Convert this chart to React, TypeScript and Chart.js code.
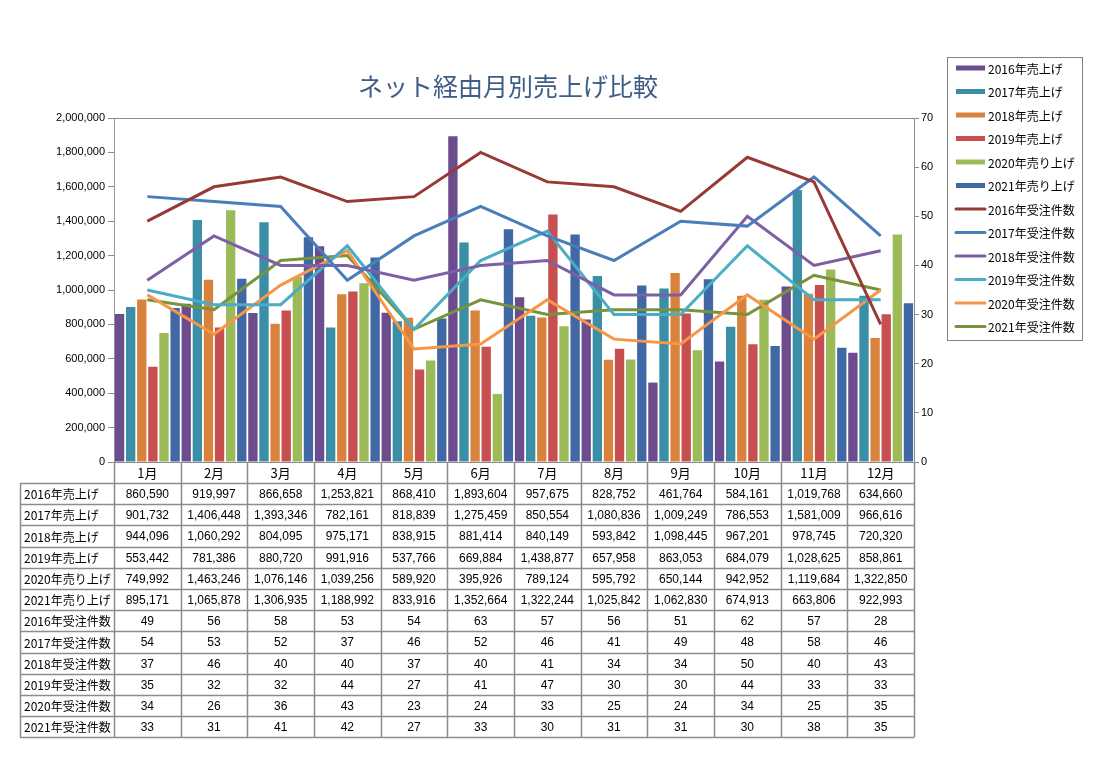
import React, { useEffect, useRef } from "react";
import { Chart, registerables } from "chart.js";

Chart.register(...registerables);

const months = ["1月", "2月", "3月", "4月", "5月", "6月", "7月", "8月", "9月", "10月", "11月", "12月"];

const sales2016 = [860590, 919997, 866658, 1253821, 868410, 1893604, 957675, 828752, 461764, 584161, 1019768, 634660];
const sales2017 = [901732, 1406448, 1393346, 782161, 818839, 1275459, 850554, 1080836, 1009249, 786553, 1581009, 966616];
const sales2018 = [944096, 1060292, 804095, 975171, 838915, 881414, 840149, 593842, 1098445, 967201, 978745, 720320];
const sales2019 = [553442, 781386, 880720, 991916, 537766, 669884, 1438877, 657958, 863053, 684079, 1028625, 858861];
const sales2020 = [749992, 1463246, 1076146, 1039256, 589920, 395926, 789124, 595792, 650144, 942952, 1119684, 1322850];
const sales2021 = [895171, 1065878, 1306935, 1188992, 833916, 1352664, 1322244, 1025842, 1062830, 674913, 663806, 922993];

const orders2016 = [49, 56, 58, 53, 54, 63, 57, 56, 51, 62, 57, 28];
const orders2017 = [54, 53, 52, 37, 46, 52, 46, 41, 49, 48, 58, 46];
const orders2018 = [37, 46, 40, 40, 37, 40, 41, 34, 34, 50, 40, 43];
const orders2019 = [35, 32, 32, 44, 27, 41, 47, 30, 30, 44, 33, 33];
const orders2020 = [34, 26, 36, 43, 23, 24, 33, 25, 24, 34, 25, 35];
const orders2021 = [33, 31, 41, 42, 27, 33, 30, 31, 31, 30, 38, 35];

const salesLabels = ["2016年売上げ", "2017年売上げ", "2018年売上げ", "2019年売上げ", "2020年売り上げ", "2021年売り上げ"];
const orderLabels = ["2016年受注件数", "2017年受注件数", "2018年受注件数", "2019年受注件数", "2020年受注件数", "2021年受注件数"];

const salesSeries = [sales2016, sales2017, sales2018, sales2019, sales2020, sales2021];
const orderSeries = [orders2016, orders2017, orders2018, orders2019, orders2020, orders2021];

const barColors = ["#6b4c8c", "#3a8ea6", "#d8823e", "#c84f4f", "#9bbb59", "#3f68a4"];
const lineColors = ["#973a36", "#4a7ebb", "#7d5fa6", "#4bacc6", "#f79646", "#77933c"];

const title = "ネット経由月別売上げ比較";

const FONT = '"Liberation Sans", "Noto Sans CJK JP", sans-serif';
const CJK = '"Noto Sans CJK JP", "Liberation Sans", sans-serif';

const tablePlugin = {
  id: "dataTable",
  afterDraw(chart: any) {
    const ctx = chart.ctx;
    const ca = chart.chartArea;
    const xs = chart.scales.x;
    const top = ca.bottom;
    const headerH = 21;
    const rowH = 21.2;
    const labelLeft = 20;
    const bounds: number[] = [];
    for (let i = 0; i <= months.length; i++) bounds.push(xs.getPixelForValue(i - 0.5));
    const rows: { label: string; values: string[] }[] = [];
    salesSeries.forEach((s, i) => rows.push({ label: salesLabels[i], values: s.map((v) => v.toLocaleString("en-US")) }));
    orderSeries.forEach((s, i) => rows.push({ label: orderLabels[i], values: s.map((v) => String(v)) }));
    const bodyTop = top + headerH;
    const bottom = bodyTop + rows.length * rowH;
    ctx.save();
    ctx.strokeStyle = "#8c8c8c";
    ctx.lineWidth = 1.5;
    ctx.beginPath();
    bounds.forEach((b) => {
      ctx.moveTo(Math.round(b) + 0.5, top);
      ctx.lineTo(Math.round(b) + 0.5, bottom);
    });
    ctx.moveTo(labelLeft + 0.5, bodyTop);
    ctx.lineTo(labelLeft + 0.5, bottom);
    for (let r = 0; r <= rows.length; r++) {
      const y = Math.round(bodyTop + r * rowH) + 0.5;
      ctx.moveTo(labelLeft, y);
      ctx.lineTo(bounds[bounds.length - 1], y);
    }
    ctx.stroke();
    ctx.fillStyle = "#000";
    ctx.textBaseline = "middle";
    ctx.textAlign = "center";
    ctx.font = `13px ${CJK}`;
    months.forEach((m, i) => {
      ctx.fillText(m, (bounds[i] + bounds[i + 1]) / 2, top + headerH / 2 + 1);
    });
    rows.forEach((row, r) => {
      const cy = bodyTop + r * rowH + rowH / 2 + 1;
      ctx.textAlign = "left";
      ctx.font = `12px ${CJK}`;
      ctx.fillText(row.label, labelLeft + 4, cy);
      ctx.textAlign = "center";
      ctx.font = `12px ${FONT}`;
      row.values.forEach((v, i) => ctx.fillText(v, (bounds[i] + bounds[i + 1]) / 2, cy));
    });
    ctx.restore();
  },
};

const framePlugin = {
  id: "frame",
  afterDraw(chart: any) {
    const ctx = chart.ctx;
    const ca = chart.chartArea;
    ctx.save();
    ctx.strokeStyle = "#7d8fa8";
    ctx.lineWidth = 1;
    ctx.beginPath();
    ctx.moveTo(ca.left, Math.round(ca.top) + 0.5);
    ctx.lineTo(ca.right, Math.round(ca.top) + 0.5);
    ctx.stroke();
    ctx.fillStyle = "#3e5c86";
    ctx.font = `25px ${CJK}`;
    ctx.textAlign = "center";
    ctx.textBaseline = "middle";
    ctx.fillText(title, (ca.left + ca.right) / 2 - 6, 86);
    const lx = ca.right + 33;
    const ly = 57;
    const lw = 135;
    const lh = 283;
    ctx.strokeStyle = "#808080";
    ctx.lineWidth = 1;
    ctx.strokeRect(lx + 0.5, ly + 0.5, lw, lh);
    const ds = chart.data.datasets;
    const step = 23.5;
    ds.forEach((d: any, i: number) => {
      const cy = ly + 11 + i * step;
      if (d.type === "line") {
        ctx.strokeStyle = d.borderColor;
        ctx.lineWidth = 3;
        ctx.lineCap = "round";
        ctx.beginPath();
        ctx.moveTo(lx + 9, cy);
        ctx.lineTo(lx + 38, cy);
        ctx.stroke();
      } else {
        ctx.fillStyle = d.backgroundColor;
        ctx.fillRect(lx + 9, cy - 2.5, 29, 5);
      }
      ctx.fillStyle = "#000";
      ctx.textAlign = "left";
      ctx.font = `12px ${CJK}`;
      ctx.fillText(d.label, lx + 41, cy + 1);
    });
    ctx.restore();
  },
};

export default function App() {
  const ref = useRef<HTMLCanvasElement | null>(null);
  useEffect(() => {
    if (!ref.current) return;
    const datasets: any[] = [];
    salesSeries.forEach((s, i) =>
      datasets.push({
        type: "bar",
        label: salesLabels[i],
        data: s,
        backgroundColor: barColors[i],
        yAxisID: "y",
        order: 2,
        barPercentage: 0.84,
        categoryPercentage: 1.0,
      })
    );
    orderSeries.forEach((s, i) =>
      datasets.push({
        type: "line",
        label: orderLabels[i],
        data: s,
        borderColor: lineColors[i],
        backgroundColor: lineColors[i],
        borderWidth: 3,
        pointRadius: 0,
        tension: 0,
        yAxisID: "y1",
        order: 1,
      })
    );
    const chart = new Chart(ref.current, {
      type: "bar",
      data: { labels: months, datasets },
      options: {
        responsive: false,
        animation: false,
        layout: { padding: { top: 118, left: 0, right: 146, bottom: 275 } },
        plugins: { legend: { display: false }, tooltip: { enabled: false }, title: { display: false } },
        scales: {
          x: {
            type: "category",
            offset: true,
            grid: { display: false, drawTicks: false },
            border: { display: true, color: "#8c8c8c", width: 1 },
            ticks: { display: false },
            afterFit: (s: any) => {
              s.height = 21;
            },
          },
          y: {
            position: "left",
            min: 0,
            max: 2000000,
            ticks: {
              stepSize: 200000,
              color: "#000",
              font: { family: FONT, size: 11 },
              padding: 3,
              callback: (v: any) => Number(v).toLocaleString("en-US"),
            },
            grid: { drawOnChartArea: false, tickLength: 6, color: "#8c8c8c" },
            border: { display: true, color: "#9a9a9a", width: 1 },
            afterFit: (s: any) => {
              s.width = 114;
            },
          },
          y1: {
            position: "right",
            min: 0,
            max: 70,
            ticks: { stepSize: 10, color: "#000", font: { family: FONT, size: 11 }, padding: 2 },
            grid: { drawOnChartArea: false, tickLength: 5, color: "#8c8c8c" },
            border: { display: true, color: "#8c8c8c", width: 1 },
            afterFit: (s: any) => {
              s.width = 40;
            },
          },
        },
      },
      plugins: [tablePlugin, framePlugin],
    } as any);
    return () => chart.destroy();
  }, []);
  return (
    <div style={{ position: "absolute", left: 0, top: 0, width: 1100, height: 758, background: "#fff" }}>
      <canvas ref={ref} width={1100} height={758} style={{ display: "block" }} />
    </div>
  );
}
